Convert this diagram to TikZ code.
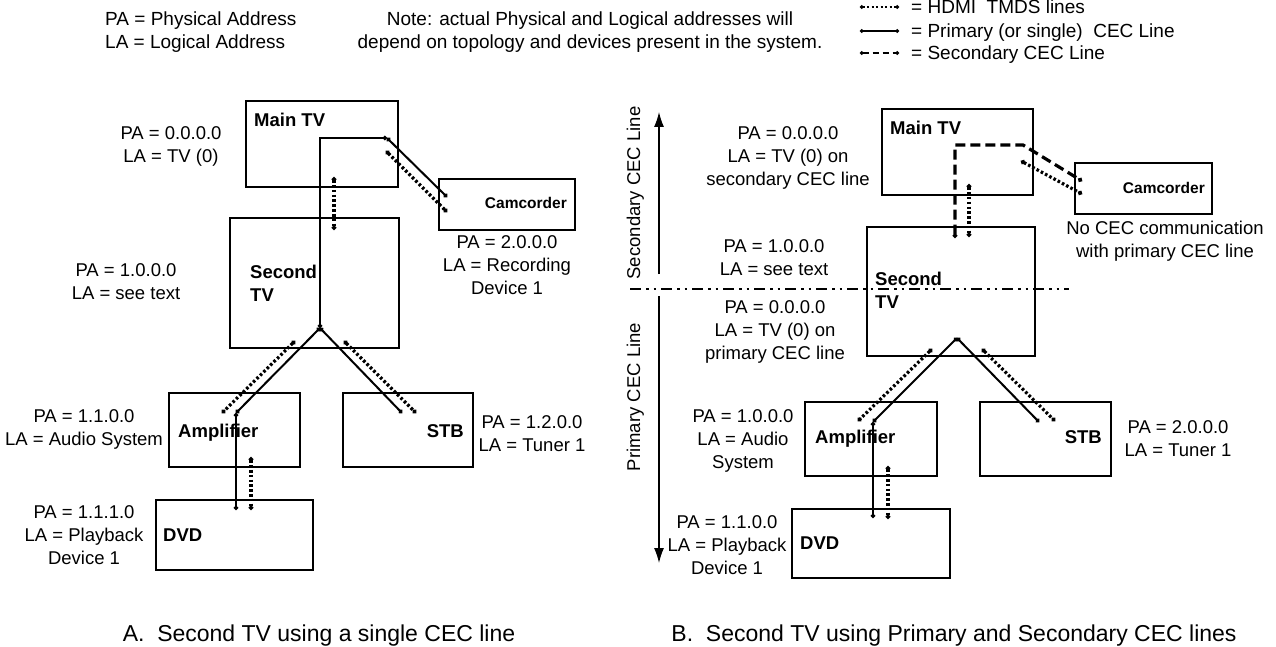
\documentclass[tikz,border=0pt]{standalone}
\usepackage{fontspec}
\setmainfont{Liberation Sans}
\usetikzlibrary{arrows.meta}
\newcommand\SL{\strut}
\begin{document}
\begin{tikzpicture}[x=1pt,y=-1pt,
  devbox/.style={draw, line width=1.1pt, inner sep=0pt, outer sep=0pt},
  devname/.style={font=\fontsize{18.5}{23}\selectfont\bfseries, inner sep=0pt, align=left},
  smallname/.style={font=\fontsize{15.5}{19}\selectfont\bfseries, inner sep=0pt},
  lbl/.style={font=\fontsize{18.5}{23}\selectfont, align=center, inner sep=0pt},
  hdr/.style={font=\fontsize{19}{23}\selectfont, inner sep=0pt},
  capt/.style={font=\fontsize{23}{27.6}\selectfont, inner sep=0pt},
  cecline/.style={line width=2pt, {Circle[length=4.2pt]}-{Circle[length=4.2pt]}},
  hdmiline/.style={line width=3.2pt, dash pattern=on 2.6pt off 2.2pt, {Circle[length=4.4pt]}-{Circle[length=4.4pt]}},
  secline/.style={line width=3.2pt, dash pattern=on 10pt off 5pt, {Circle[length=4.4pt]}-{Circle[length=4.4pt]}},
  sepline/.style={line width=2.8pt, dash pattern=on 11pt off 5pt on 2.5pt off 5pt on 2.5pt off 5pt},
  axisarrow/.style={line width=1.2pt, -{Latex[length=15pt,width=10pt]}},
]
\fill[white] (0,0) rectangle (1276,647);
\useasboundingbox (0,0) rectangle (1276,647);

% ---------- header ----------
\node[hdr, align=left, anchor=west] (hdrpa) at (105,32.7) {\SL PA = Physical Address\\\SL LA = Logical Address};
\node[hdr, align=center] (note) at (590,32.7) {\SL Note: actual Physical and Logical addresses will\\\SL depend on topology and devices present in the system.};
\coordinate (lg1a) at (860,7);  \coordinate (lg1b) at (899,7);
\coordinate (lg2a) at (860,31); \coordinate (lg2b) at (899,31);
\coordinate (lg3a) at (860,53); \coordinate (lg3b) at (899,53);
\draw[line width=2.2pt, dash pattern=on 2pt off 2.5pt, {Circle[length=3.6pt]}-{Circle[length=3.6pt]}] (lg1a) -- (lg1b);
\draw[line width=1.8pt, {Circle[length=3.6pt]}-{Circle[length=3.6pt]}] (lg2a) -- (lg2b);
\draw[line width=2.6pt, dash pattern=on 6pt off 4pt, {Circle[length=3.6pt]}-{Circle[length=3.6pt]}] (lg3a) -- (lg3b);
\node[hdr, anchor=west] (lg1t) at (911,9.2) {\SL = HDMI~ TMDS lines};
\node[hdr, anchor=west] (lg2t) at (911,33.2) {\SL = Primary (or single)~ CEC Line};
\node[hdr, anchor=west] (lg3t) at (911,55.2) {\SL = Secondary CEC Line};

% ---------- panel A boxes ----------
\node[devbox, minimum width=152pt, minimum height=86pt] (mainA) at (322,144) {};
\node[devbox, minimum width=136pt, minimum height=51pt] (camA) at (507,204.5) {};
\node[devbox, minimum width=169pt, minimum height=130pt] (secA) at (314.5,283) {};
\node[devbox, minimum width=131pt, minimum height=74pt] (ampA) at (234.5,430) {};
\node[devbox, minimum width=130pt, minimum height=74pt] (stbA) at (408,430) {};
\node[devbox, minimum width=157pt, minimum height=70pt] (dvdA) at (234.5,535) {};

\node[devname, anchor=west] (mainAt) at (254,122) {\SL Main TV};
\node[smallname, anchor=east] (camAt) at (567,204.8) {\SL Camcorder};
\node[devname, anchor=west] (secAt) at (250,285) {\SL Second\\\SL TV};
\node[devname, anchor=west] (ampAt) at (178,433) {\SL Amplifier};
\node[devname, anchor=east] (stbAt) at (464,433) {\SL STB};
\node[devname, anchor=west] (dvdAt) at (163,537) {\SL DVD};

% ---------- panel A labels ----------
\node[lbl] (paMainA) at (171,146.5) {\SL PA = 0.0.0.0\\\SL LA = TV (0)};
\node[lbl] (paCamA) at (507,267) {\SL PA = 2.0.0.0\\\SL LA = Recording\\\SL Device 1};
\node[lbl] (paSecA) at (126,283.5) {\SL PA = 1.0.0.0\\\SL LA = see text};
\node[lbl] (paAmpA) at (84,429) {\SL PA = 1.1.0.0\\\SL LA = Audio System};
\node[lbl] (paStbA) at (532,435.5) {\SL PA = 1.2.0.0\\\SL LA = Tuner 1};
\node[lbl] (paDvdA) at (84,537) {\SL PA = 1.1.1.0\\\SL LA = Playback\\\SL Device 1};
\node[capt] (captA) at (319,635.7) {\SL A.~ Second TV using a single CEC line};

% ---------- panel A connectors ----------
\coordinate (As1) at (447,197); \coordinate (As2) at (387,138); \coordinate (As3) at (320,138);
\coordinate (Abr) at (320,328); \coordinate (As4) at (236,413); \coordinate (As5) at (236,510);
\coordinate (As6) at (402,413);
\draw[cecline] (As1) -- (As2);
\draw[cecline] (As2) -- (As3) -- (Abr);
\draw[cecline] (Abr) -- (As4);
\draw[cecline] (As4) -- (As5);
\draw[cecline] (Abr) -- (As6);
\coordinate (Ah1a) at (334,177); \coordinate (Ah1b) at (334,230);
\coordinate (Ah2a) at (386,151); \coordinate (Ah2b) at (447,212);
\coordinate (Ah3a) at (295,341); \coordinate (Ah3b) at (222,413);
\coordinate (Ah4a) at (344,341); \coordinate (Ah4b) at (416,413);
\coordinate (Ah5a) at (251,457); \coordinate (Ah5b) at (251,510);
\draw[hdmiline] (Ah1a) -- (Ah1b);
\draw[hdmiline] (Ah2a) -- (Ah2b);
\draw[hdmiline] (Ah3a) -- (Ah3b);
\draw[hdmiline] (Ah4a) -- (Ah4b);
\draw[hdmiline] (Ah5a) -- (Ah5b);

% ---------- panel B boxes ----------
\node[devbox, minimum width=151pt, minimum height=86pt] (mainB) at (957.5,152) {};
\node[devbox, minimum width=137pt, minimum height=51pt] (camB) at (1143.5,188.5) {};
\node[devbox, minimum width=168pt, minimum height=129pt] (secB) at (951,291.5) {};
\node[devbox, minimum width=132pt, minimum height=74pt] (ampB) at (871,439) {};
\node[devbox, minimum width=131pt, minimum height=74pt] (stbB) at (1045.5,439) {};
\node[devbox, minimum width=158pt, minimum height=69pt] (dvdB) at (871,543.5) {};

\node[devname, anchor=west] (mainBt) at (890,130) {\SL Main TV};
\node[smallname, anchor=east] (camBt) at (1205,189.8) {\SL Camcorder};
\node[devname, anchor=west] (secBt) at (875,292) {\SL Second\\\SL TV};
\node[devname, anchor=west] (ampBt) at (815,439) {\SL Amplifier};
\node[devname, anchor=east] (stbBt) at (1102,439) {\SL STB};
\node[devname, anchor=west] (dvdBt) at (800,545) {\SL DVD};

% ---------- panel B labels ----------
\node[lbl] (paMainB) at (788,158) {\SL PA = 0.0.0.0\\\SL LA = TV (0) on\\\SL secondary CEC line};
\node[lbl] (noCec) at (1165,241) {\SL No CEC communication\\\SL with primary CEC line};
\node[lbl] (paSecB1) at (774,259) {\SL PA = 1.0.0.0\\\SL LA = see text};
\node[lbl] (paSecB2) at (775,332.3) {\SL PA = 0.0.0.0\\\SL LA = TV (0) on\\\SL primary CEC line};
\node[lbl] (paAmpB) at (743,441) {\SL PA = 1.0.0.0\\\SL LA = Audio\\\SL System};
\node[lbl] (paStbB) at (1178,440) {\SL PA = 2.0.0.0\\\SL LA = Tuner 1};
\node[lbl] (paDvdB) at (727,547) {\SL PA = 1.1.0.0\\\SL LA = Playback\\\SL Device 1};
\node[capt] (captB) at (954,635.7) {\SL B.~ Second TV using Primary and Secondary CEC lines};

% ---------- panel B side axis ----------
\node[lbl, rotate=90] (secAxis) at (635.5,193) {\SL Secondary CEC Line};
\node[lbl, rotate=90] (primAxis) at (635.5,397) {\SL Primary CEC Line};
\coordinate (upBot) at (659,274); \coordinate (upTop) at (659,112);
\coordinate (dnTop) at (659,296); \coordinate (dnBot) at (659,563);
\draw[axisarrow] (upBot) -- (upTop);
\draw[axisarrow] (dnTop) -- (dnBot);
\coordinate (sepL) at (630,289); \coordinate (sepR) at (1069,289);
\draw[sepline] (sepL) -- (sepR);

% ---------- panel B connectors ----------
\coordinate (Bd1) at (955,238); \coordinate (Bd2) at (955,145);
\coordinate (Bd3) at (1023,145); \coordinate (Bd4) at (1082,181);
\draw[secline] (Bd1) -- (Bd2) -- (Bd3) -- (Bd4);
\coordinate (Bh1a) at (969,184); \coordinate (Bh1b) at (969,237);
\coordinate (Bh2a) at (1021,161); \coordinate (Bh2b) at (1082,194);
\coordinate (Bh3a) at (932,349); \coordinate (Bh3b) at (858,421);
\coordinate (Bh4a) at (982,349); \coordinate (Bh4b) at (1055,421);
\coordinate (Bh5a) at (888,466); \coordinate (Bh5b) at (888,519);
\draw[hdmiline] (Bh1a) -- (Bh1b);
\draw[hdmiline] (Bh2a) -- (Bh2b);
\draw[hdmiline] (Bh3a) -- (Bh3b);
\draw[hdmiline] (Bh4a) -- (Bh4b);
\draw[hdmiline] (Bh5a) -- (Bh5b);
\coordinate (Bbr) at (957,338); \coordinate (Bs1) at (873,422);
\coordinate (Bs2) at (873,518); \coordinate (Bs3) at (1039,422);
\draw[cecline] (Bbr) -- (Bs1);
\draw[cecline] (Bs1) -- (Bs2);
\draw[cecline] (Bbr) -- (Bs3);
\end{tikzpicture}
\end{document}
